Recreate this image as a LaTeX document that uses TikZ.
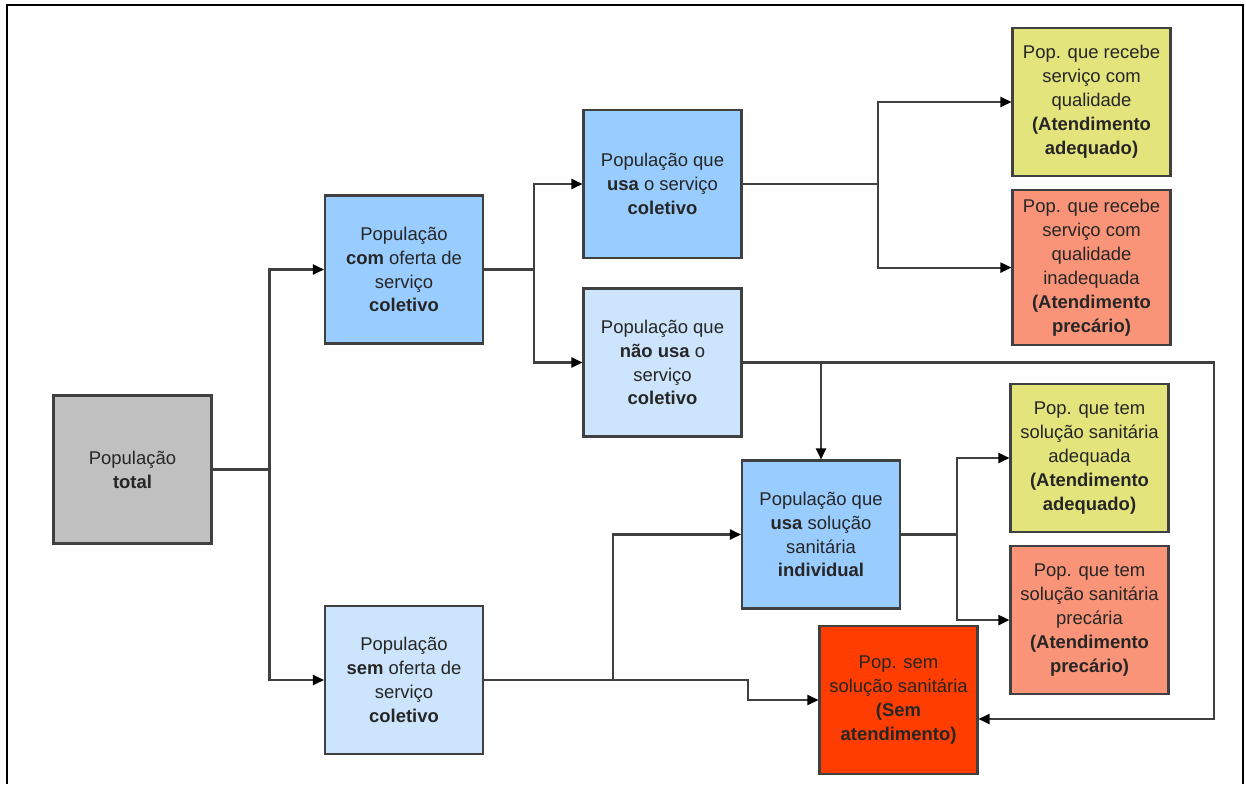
\documentclass[tikz,border=0pt]{standalone}
\usepackage{fontspec}
\setmainfont{Liberation Sans}
\usepackage{xcolor}
\usetikzlibrary{arrows.meta,positioning}

\definecolor{totgray}{HTML}{C0C0C0}
\definecolor{ofblue}{HTML}{99CCFF}
\definecolor{lightblue}{HTML}{CCE4FC}
\definecolor{okyellow}{HTML}{E4E47C}
\definecolor{badsalmon}{HTML}{FA9478}
\definecolor{nored}{HTML}{FF3D00}
\definecolor{linegray}{HTML}{404040}

\begin{document}
\begin{tikzpicture}[
  x=0.02cm, y=-0.02cm,
  font=\fontsize{10.5}{13.6}\selectfont,
  box/.style={draw=linegray, line width=1.2pt, minimum width=3.16cm,
              minimum height=2.96cm, align=center, inner sep=2pt,
              text=black!85},
  link/.style={draw=linegray, line width=1.2pt},
  >={Triangle[length=0.22cm,width=0.2cm,color=black]}
]
\useasboundingbox (0,0) rectangle (1246,784);

%% --- moldura ---
\draw[line width=1.5pt] (7,784) -- (7,5) -- (1243,5) -- (1243,784);

%% --- coluna 1 e 2 ---
\node[box, fill=totgray] (tot) at (132.5,469.5)
  {População\\\textbf{total}};
\node[box, fill=ofblue] (com) at (404,269.5)
  {População\\\textbf{com} oferta de\\serviço\\\textbf{coletivo}};
\node[box, fill=lightblue] (sem) at (404,680)
  {População\\\textbf{sem} oferta de\\serviço\\\textbf{coletivo}};

%% --- serviço coletivo ---
\node[box, fill=ofblue] (usa) at (662.5,184)
  {População que\\\textbf{usa} o serviço\\\textbf{coletivo}};
\node[box, fill=lightblue] (nusa) at (662.5,362.5)
  {População que\\\textbf{não usa} o\\serviço\\\textbf{coletivo}};
\node[box, fill=okyellow] (qual) at (1091.5,102)
  {Pop. que recebe\\serviço com\\qualidade\\\textbf{(Atendimento}\\\textbf{adequado)}};
\node[box, fill=badsalmon, minimum height=3.1cm, below=0.24cm of qual] (inad)
  {Pop. que recebe\\serviço com\\qualidade\\inadequada\\\textbf{(Atendimento}\\\textbf{precário)}};

%% --- solução individual ---
\node[box, fill=ofblue] (ind) at (821,534.5)
  {População que\\\textbf{usa} solução\\sanitária\\\textbf{individual}};
\node[box, fill=okyellow] (sadeq) at (1089.5,458)
  {Pop. que tem\\solução sanitária\\adequada\\\textbf{(Atendimento}\\\textbf{adequado)}};
\node[box, fill=badsalmon, below=0.24cm of sadeq] (sprec)
  {Pop. que tem\\solução sanitária\\precária\\\textbf{(Atendimento}\\\textbf{precário)}};
\node[box, fill=nored] (semsol) at (898.5,700)
  {Pop. sem\\solução sanitária\\\textbf{(Sem}\\\textbf{atendimento)}};

%% --- ligações ---
\draw[link] (tot.east) -- ++(57,0) coordinate (jt);
\draw[link,->] (jt) |- (com.west);
\draw[link,->] (jt) |- (sem.west);

\draw[link] (com.east) -- ++(50,0) coordinate (jc);
\draw[link,->] (jc) |- (usa.west);
\draw[link,->] (jc) |- (nusa.west);

\draw[link] (usa.east) -- ++(135.5,0) coordinate (ju);
\draw[link,->] (ju) |- (qual.west);
\draw[link,->] (ju) |- (inad.west);

\draw[link,->] (nusa.east) -- ++(471.5,0) |- ([yshift=-0.38cm]semsol.east);
\draw[link,->] (nusa.east -| ind.north) -- (ind.north);

\draw[link] (sem.east) -- ++(129,0) coordinate (js);
\draw[link,->] (js) |- (ind.west);
\draw[link,->] (js) -- ++(135,0) |- (semsol.west);

\draw[link] (ind.east) -- ++(56,0) coordinate (ji);
\draw[link,->] (ji) |- (sadeq.west);
\draw[link,->] (ji) |- (sprec.west);
\end{tikzpicture}
\end{document}
